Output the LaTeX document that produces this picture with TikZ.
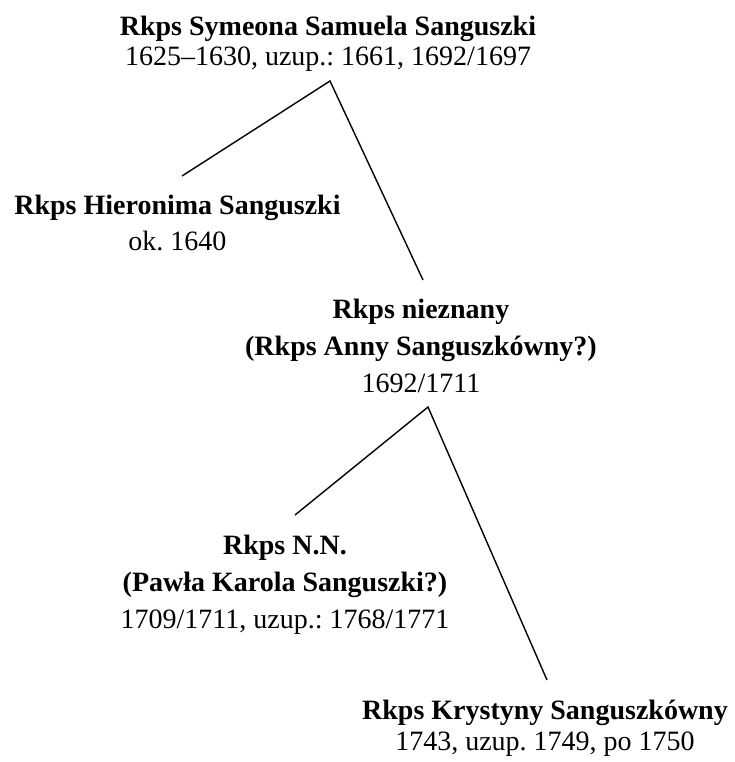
\documentclass[tikz,border=0pt]{standalone}
\usepackage{fontspec}
\setmainfont{Liberation Serif}
\usetikzlibrary{calc}
\frenchspacing

\begin{document}
\begin{tikzpicture}[x=0.5pt,y=-0.5pt,line width=0.7pt,
  every node/.style={align=center,inner sep=0pt,anchor=base,font=\fontsize{14}{18.5}\selectfont}]
  \useasboundingbox (0,0) rectangle (735,762);
  \path (328,65) node (sym) {\textbf{Rkps Symeona Samuela Sanguszki}\\[-3.5pt]1625--1630, uzup.: 1661, 1692/1697}
  (177.5,250) node (hier) {\textbf{Rkps Hieronima Sanguszki}\\[-0.5pt]ok. 1640}
  (421,392) node (niez) {\textbf{Rkps nieznany}\\\textbf{(Rkps Anny Sanguszkówny?)}\\1692/1711}
  (285,628) node (nn) {\textbf{Rkps N.N.}\\\textbf{(Pawła Karola Sanguszki?)}\\1709/1711, uzup.: 1768/1771}
  (545,750) node (kry) {\textbf{Rkps Krystyny Sanguszkówny}\\[-3pt]1743, uzup. 1749, po 1750};
  \path (330,81) coordinate (a0) (182,176) coordinate (a1) (423,280) coordinate (a2)
  (428,407) coordinate (b0) (295,515) coordinate (b1) (547,680) coordinate (b2);
  \draw (a1) -- (a0) -- (a2);
  \draw (b1) -- (b0) -- (b2);
\end{tikzpicture}
\end{document}
